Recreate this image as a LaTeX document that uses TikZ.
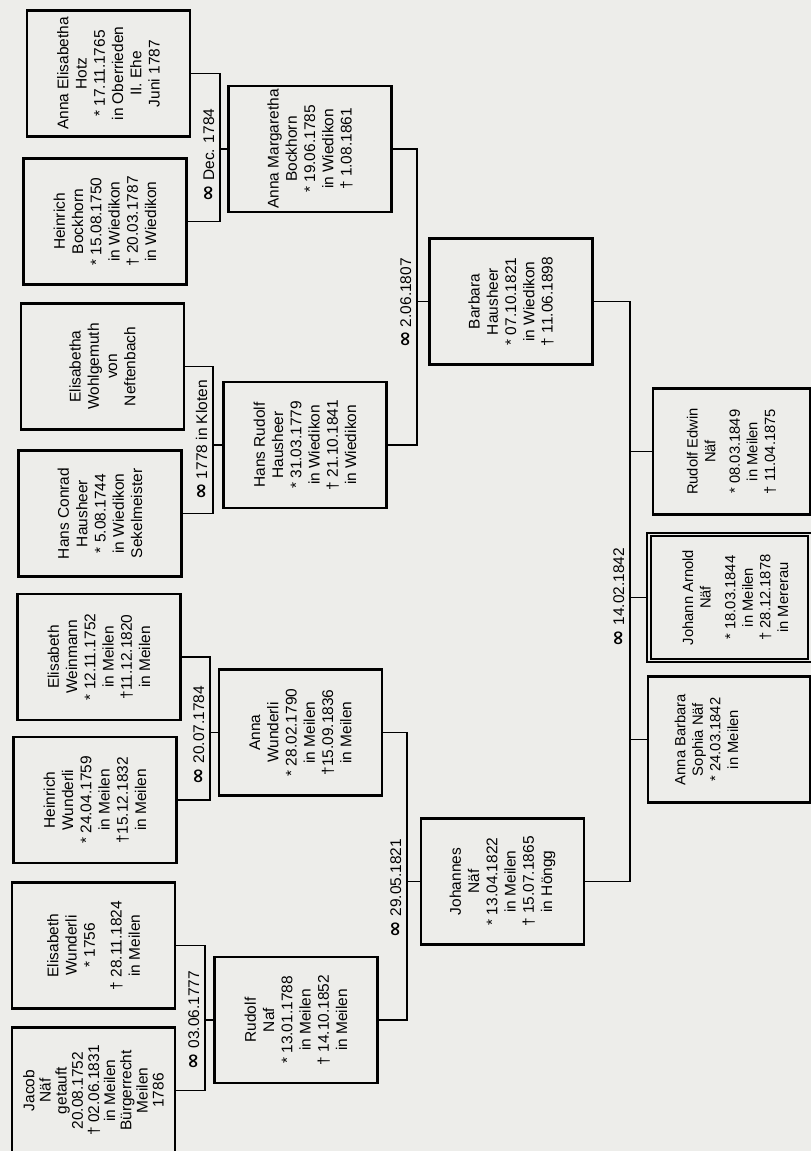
\documentclass[tikz,border=0pt]{standalone}
\usepackage{fontspec}
\setmainfont{Liberation Sans}
\newfontfamily\symfont{DejaVu Sans}
\newcommand\wed{{\symfont\bfseries\fontsize{14}{14}\selectfont ∞}}
\definecolor{paper}{RGB}{237,237,234}

\begin{document}
\begin{tikzpicture}[x=0.25mm, y=-0.25mm,
    person/.style={draw, line width=1.8pt, rotate=90, align=center,
        minimum width=31.5mm, minimum height=40.75mm, inner sep=2pt,
        font=\fontsize{11}{13}\selectfont},
    kid/.style={person, minimum height=0pt, inner ysep=0pt,
        font=\fontsize{10.5}{12.5}\selectfont},
    marr/.style={rotate=90, anchor=south, inner sep=1pt,
        font=\fontsize{11}{12}\selectfont},
    link/.style={line width=1.4pt}]

    % Page
    \fill[paper] (0,0) rectangle (811,1151);
    \useasboundingbox (0,0) rectangle (811,1151);

    % Great-grandparents (left column)
    \node[person] (hotz) at (108.5,73.5) {Anna Elisabetha\\Hotz\\* 17.11.1765\\in Oberrieden\\II. Ehe\\Juni 1787};
    \node[person] (bockhorn) at (105,221.5) {Heinrich\\Bockhorn\\* 15.08.1750\\in Wiedikon\\† 20.03.1787\\in Wiedikon};
    \node[person] (wohlgemuth) at (102.5,366.5) {Elisabetha\\Wohlgemuth\\von\\Neftenbach};
    \node[person] (conrad) at (100,513.5) {Hans Conrad\\Hausheer\\* 5.08.1744\\in Wiedikon\\Sekelmeister};
    \node[person] (weinmann) at (99,657) {Elisabeth\\Weinmann\\* 12.11.1752\\in Meilen\\†11.12.1820\\in Meilen};
    \node[person] (hwunderli) at (95,800) {Heinrich\\Wunderli\\* 24.04.1759\\in Meilen\\†15.12.1832\\in Meilen};
    \node[person] (ewunderli) at (93.5,945.5) {Elisabeth\\Wunderli\\* 1756\\[6pt]† 28.11.1824\\in Meilen};
    \node[person, font=\fontsize{11}{11.5}\selectfont] (jacob) at (93.5,1090.5) {Jacob\\Näf\\getauft\\20.08.1752\\† 02.06.1831\\in Meilen\\Bürgerrecht\\Meilen\\1786};

    % Grandparents
    \node[person] (margaretha) at (310,149) {Anna Margaretha\\Bockhorn\\* 19.06.1785\\in Wiedikon\\† 1.08.1861};
    \node[person] (hansrudolf) at (305,445) {Hans Rudolf\\Hausheer\\* 31.03.1779\\in Wiedikon\\† 21.10.1841\\in Wiedikon};
    \node[person] (annaw) at (300.5,732.5) {Anna\\Wunderli\\* 28.02.1790\\in Meilen\\†15.09.1836\\in Meilen};
    \node[person] (rudolf) at (296,1020) {Rudolf\\Naf\\* 13.01.1788\\in Meilen\\† 14.10.1852\\in Meilen};

    % Parents
    \node[person] (barbara) at (511,301.5) {Barbara\\Hausheer\\* 07.10.1821\\in Wiedikon\\† 11.06.1898};
    \node[person] (johannes) at (502.5,881.5) {Johannes\\Näf\\* 13.04.1822\\in Meilen\\† 15.07.1865\\in Höngg};

    % Children
    \node[kid, text height=30.5mm, text depth=8.75mm] (edwin) at (731.5,451.5) {Rudolf Edwin\\Näf\\[5pt]* 08.03.1849\\in Meilen\\† 11.04.1875};
    \node[kid, text height=34.75mm, text depth=5.5mm, line width=1.4pt, double=paper, double distance=1.3pt] (arnold) at (729.5,597.5) {Johann Arnold\\Näf\\[5pt]* 18.03.1844\\in Meilen\\† 28.12.1878\\in Mererau};
    \node[kid, text height=22.5mm, text depth=18mm] (sophia) at (729,739.5) {Anna Barbara\\Sophia Näf\\* 24.03.1842\\in Meilen};

    % Marriage brackets
    \coordinate (b1) at (220,149);
    \coordinate (b2) at (213,445);
    \coordinate (b3) at (210,732.5);
    \coordinate (b4) at (205,1020);
    \coordinate (b5) at (417,301.5);
    \coordinate (b6) at (407,881.5);
    \coordinate (b7) at (630,597.5);

    \draw[link] (hotz.south) -| (b1) |- (bockhorn.south);
    \draw[link] (b1) -- (margaretha.north);
    \draw[link] (wohlgemuth.south) -| (b2) |- (conrad.south);
    \draw[link] (b2) -- (hansrudolf.north);
    \draw[link] (weinmann.south) -| (b3) |- (hwunderli.south);
    \draw[link] (b3) -- (annaw.north);
    \draw[link] (ewunderli.south) -| (b4) |- (jacob.south);
    \draw[link] (b4) -- (rudolf.north);

    \draw[link] (margaretha.south) -| (b5) |- (hansrudolf.south);
    \draw[link] (b5) -- (barbara.north);
    \draw[link] (annaw.south) -| (b6) |- (rudolf.south);
    \draw[link] (b6) -- (johannes.north);

    \draw[link] (barbara.south) -| (b7) |- (johannes.south);
    \foreach \k in {edwin, arnold, sophia} {
        \draw[link] (\k.north) -- (\k.north -| b7);
    }

    % Wedding dates
    \node[marr] (w1) at (216,155) {\wed{} Dec. 1784};
    \node[marr] (w2) at (209,440) {\wed{} 1778 in Kloten};
    \node[marr] (w3) at (206,735) {\wed{} 20.07.1784};
    \node[marr] (w4) at (201,1020) {\wed{} 03.06.1777};
    \node[marr] (w5) at (413,303) {\wed{} 2.06.1807};
    \node[marr] (w6) at (403,888) {\wed{} 29.05.1821};
    \node[marr] (w7) at (626,597) {\wed{} 14.02.1842};

\end{tikzpicture}
\end{document}
